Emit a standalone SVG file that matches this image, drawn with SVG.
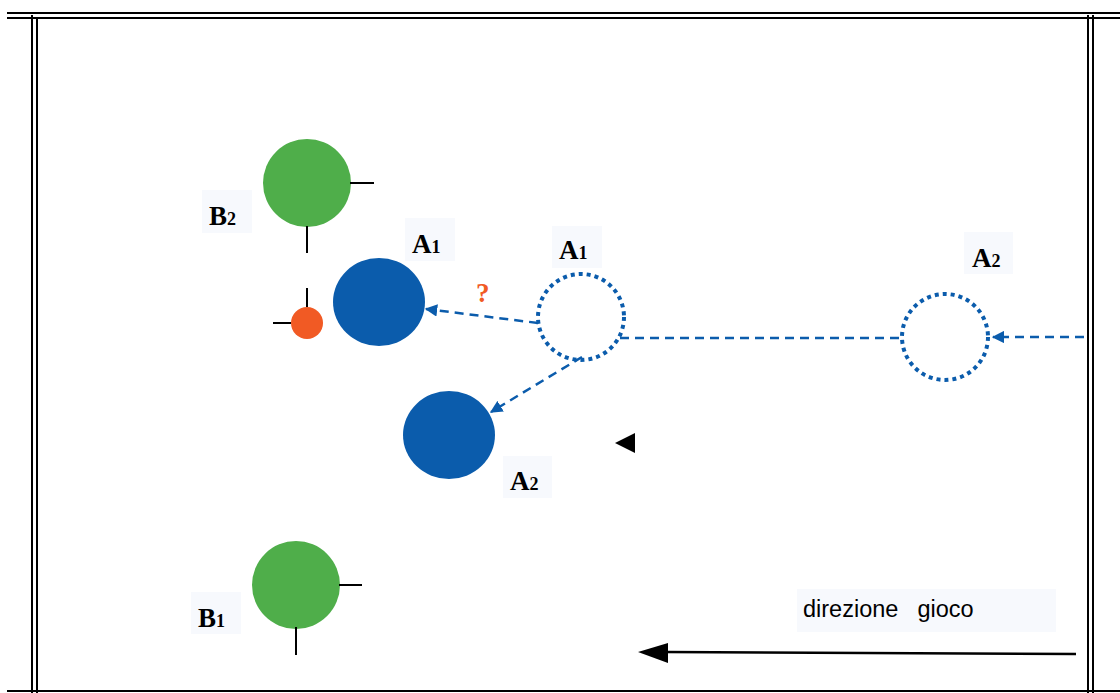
<svg xmlns="http://www.w3.org/2000/svg" width="1120" height="693" viewBox="0 0 1120 693">
<style>
.frame{stroke:#000;stroke-width:2;fill:none}
.tick{stroke:#000;stroke-width:2}
.lbox{fill:#f7f9fd}
.lbl{font-family:"Liberation Serif",serif;font-weight:bold;font-size:27px;fill:#000}
.sub{font-size:18px}
.green{fill:#4fae4a}
.blue{fill:#0b5cac}
.ghost{fill:none;stroke:#0b5cac;stroke-width:4;stroke-dasharray:4 4}
.dash{stroke:#0b5cac;stroke-width:2.5;stroke-dasharray:9 6;fill:none}
</style>
<defs>
<marker id="ah" viewBox="0 0 10 10" refX="9" refY="5" markerWidth="5" markerHeight="5" orient="auto" markerUnits="strokeWidth">
<path d="M0,0 L10,5 L0,10 z" fill="#0b5cac"/>
</marker>
</defs>
<rect width="1120" height="693" fill="#fff"/>
<g id="field">
<line class="frame" x1="7" y1="13" x2="1120" y2="13"/>
<line class="frame" x1="7" y1="18" x2="1120" y2="18"/>
<line class="frame" x1="32" y1="15" x2="32" y2="693"/>
<line class="frame" x1="37" y1="18" x2="37" y2="693"/>
<line class="frame" x1="1088" y1="15" x2="1088" y2="693"/>
<line class="frame" x1="1093" y1="15" x2="1093" y2="693"/>
<line class="frame" x1="7" y1="691" x2="1120" y2="691"/>
</g>
<g id="connectors">
<line class="dash" x1="538" y1="323" x2="426" y2="309" marker-end="url(#ah)"/>
<line class="dash" x1="582" y1="357" x2="491" y2="412" marker-end="url(#ah)"/>
<line class="dash" x1="620" y1="338" x2="902" y2="338"/>
<line class="dash" x1="1084" y1="337" x2="993" y2="337" marker-end="url(#ah)"/>
<line stroke="#000" stroke-width="2.5" x1="1076" y1="654" x2="665" y2="652"/>
<path d="M638,652 L668,643 L668,663 z" fill="#000"/>
</g>
<g id="B2">
<circle class="green" cx="307" cy="183" r="44"/>
<line class="tick" x1="350" y1="183" x2="374" y2="183"/>
<line class="tick" x1="307" y1="226" x2="307" y2="253"/>
<rect class="lbox" x="202" y="190" width="50" height="43"/>
<text class="lbl" x="209" y="225">B<tspan class="sub">2</tspan></text>
</g>
<g id="ball">
<circle cx="307" cy="323" r="16" fill="#f15a24"/>
<line class="tick" x1="307" y1="288" x2="307" y2="307"/>
<line class="tick" x1="273" y1="323" x2="291" y2="323"/>
</g>
<g id="A1">
<ellipse class="blue" cx="379" cy="302" rx="46" ry="44"/>
<rect class="lbox" x="405" y="218" width="50" height="43"/>
<text class="lbl" x="412" y="253">A<tspan class="sub">1</tspan></text>
</g>
<g id="question">
<text x="476" y="302" font-family="Liberation Serif,serif" font-weight="bold" font-size="27" fill="#f15a24">?</text>
</g>
<g id="A1-old">
<circle class="ghost" cx="581" cy="317" r="43"/>
<rect class="lbox" x="552" y="226" width="50" height="42"/>
<text class="lbl" x="559" y="259">A<tspan class="sub">1</tspan></text>
</g>
<g id="A2-old">
<circle class="ghost" cx="945" cy="337" r="43"/>
<rect class="lbox" x="964" y="232" width="49" height="42"/>
<text class="lbl" x="972" y="267">A<tspan class="sub">2</tspan></text>
</g>
<g id="A2">
<ellipse class="blue" cx="449" cy="435" rx="46" ry="44"/>
<rect class="lbox" x="503" y="456" width="49" height="42"/>
<text class="lbl" x="510" y="490">A<tspan class="sub">2</tspan></text>
</g>
<g id="marker-triangle">
<path d="M615,443 L635,433 L635,453 z" fill="#000"/>
</g>
<g id="B1">
<circle class="green" cx="296" cy="585" r="44"/>
<line class="tick" x1="339" y1="585" x2="362" y2="585"/>
<line class="tick" x1="296" y1="627" x2="296" y2="655"/>
<rect class="lbox" x="191" y="592" width="50" height="42"/>
<text class="lbl" x="198" y="627">B<tspan class="sub">1</tspan></text>
</g>
<g id="direction">
<rect class="lbox" x="797" y="589" width="259" height="43"/>
<text x="803" y="617" font-family="Liberation Sans,Arial,sans-serif" font-size="23.5" fill="#000" word-spacing="3" xml:space="preserve">direzione  gioco</text>
</g>
</svg>
